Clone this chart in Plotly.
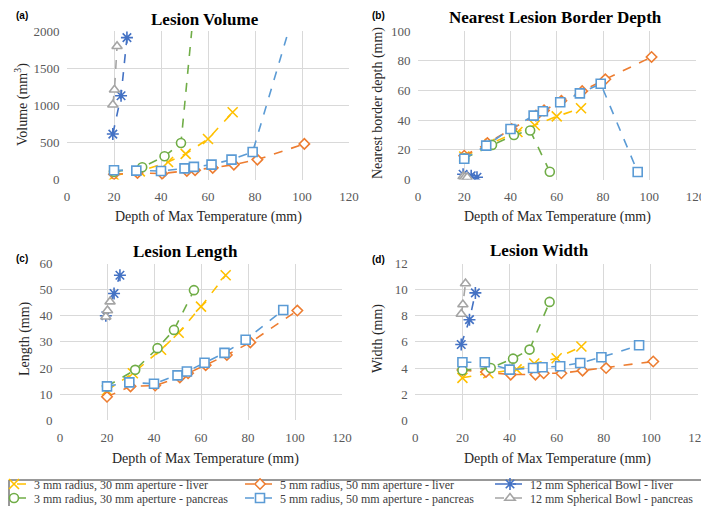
import plotly.graph_objects as go

# ---------------- data ----------------
series_names = [
    "3 mm radius, 30 mm aperture - liver",
    "5 mm radius, 50 mm aperture - liver",
    "12 mm Spherical Bowl - liver",
    "3 mm radius, 30 mm aperture - pancreas",
    "5 mm radius, 50 mm aperture - pancreas",
    "12 mm Spherical Bowl - pancreas",
]

# depth of max temperature (mm)
x_3l = [20, 31, 43, 50.5, 60, 70.5]
x_5l = [20, 30, 40.5, 51, 54.5, 62, 71, 81, 101]
x_12l = [19.5, 23, 25.5]
x_3p = [20, 32, 41.5, 48.5, 57]
x_5p = [20, 29.5, 40, 50, 54, 61.5, 70, 79, 95]
x_12p = [19.5, 20.2, 21.3]

# (a) lesion volume (mm^3)
vol_3l = [55, 110, 235, 345, 545, 905]
vol_5l = [70, 89, 80, 115, 125, 157, 201, 268, 479]
vol_12l = [612, 1128, 1911]
vol_3p = [103, 165, 313, 492, 3300]
vol_5p = [125, 120, 115, 150, 170, 201, 268, 371, 2080]
vol_12p = [1006, 1208, 1795]

# (b) nearest lesion border depth (mm)
dep_3l = [15.5, 24, 32, 36.5, 42.5, 48]
dep_5l = [16, 24.5, 34, 43, 46.5, 53, 59.5, 67.5, 82.5]
dep_12l = [3.5, 2.5, 1.5]
dep_3p = [14.2, 23.3, 30, 33, 5.2]
dep_5p = [14, 22.8, 34, 43, 46, 52, 58, 64.5, 5]
dep_12p = [2, 1.5, 1.5]

# (c) lesion length (mm)
len_3l = [11.5, 18, 27, 33.5, 43.5, 55.5]
len_5l = [9, 13, 13.3, 16.4, 18, 21.1, 25, 29.8, 42]
len_12l = [40, 48.5, 55.5]
len_3p = [13, 19.3, 27.6, 34.6, 49.8]
len_5p = [13, 14.5, 14, 17.2, 18.7, 22, 25.8, 30.8, 42.2]
len_12p = [39.6, 42, 45.4]

# (d) lesion width (mm)
wid_3l = [3.25, 3.6, 3.9, 4.35, 4.75, 5.65]
wid_5l = [3.85, 3.7, 3.5, 3.5, 3.6, 3.6, 3.8, 4.0, 4.5]
wid_12l = [5.8, 7.7, 9.75]
wid_3p = [3.83, 4.0, 4.72, 5.41, 9.06]
wid_5p = [4.44, 4.44, 3.88, 4.0, 4.06, 4.14, 4.39, 4.83, 5.74]
wid_12p = [8.14, 8.86, 10.47]

x_ticks = [0, 20, 40, 60, 80, 100, 120]
vol_ticks = [0, 500, 1000, 1500, 2000]
dep_ticks = [0, 20, 40, 60, 80, 100]
len_ticks = [0, 10, 20, 30, 40, 50, 60]
wid_ticks = [0, 2, 4, 6, 8, 10, 12]

# ---------------- styling ----------------
W, H = 709, 506
SERIF = "Liberation Serif"
colors = ["#FFC000", "#ED7D31", "#4472C4", "#70AD47", "#5B9BD5", "#A5A5A5"]
symbols = ["x-thin", "diamond", "asterisk", "circle", "square", "triangle-up"]
msize = [10, 8, 10, 9, 9, 9]
# one legend per entry: (left px, anchor px)
leg_pos = [(-14, 476), (232, 476), (482, 476), (-14, 490), (232, 490), (482, 490)]

xs = [x_3l, x_5l, x_12l, x_3p, x_5p, x_12p]
panels = [
    [vol_3l, vol_5l, vol_12l, vol_3p, vol_5p, vol_12p],
    [dep_3l, dep_5l, dep_12l, dep_3p, dep_5p, dep_12p],
    [len_3l, len_5l, len_12l, len_3p, len_5p, len_12p],
    [wid_3l, wid_5l, wid_12l, wid_3p, wid_5p, wid_12p],
]
axis_ids = [("x", "y"), ("x2", "y2"), ("x3", "y3"), ("x4", "y4")]

def legname(i):
    return "legend" if i == 0 else f"legend{i + 1}"

fig = go.Figure()
for p, ys in enumerate(panels):
    xa, ya = axis_ids[p]
    for i in range(6):
        open_fill = symbols[i] not in ("x-thin", "asterisk")
        fig.add_trace(go.Scatter(
            x=xs[i], y=ys[i], xaxis=xa, yaxis=ya,
            mode="lines+markers", name=series_names[i],
            legend=legname(i), showlegend=(p == 0),
            line=dict(color=colors[i], width=1.6, dash="dash"),
            marker=dict(symbol=symbols[i], size=msize[i],
                        color="white" if open_fill else colors[i],
                        line=dict(color=colors[i], width=1.6)),
        ))

def xd(a, b):
    return [a / W, b / W]

def yd(top, bottom):
    return [1 - bottom / H, 1 - top / H]

doms = [
    (xd(59, 341), yd(23, 171.5)),
    (xd(410, 687.5), yd(23, 171.5)),
    (xd(52, 334), yd(255.5, 412.3)),
    (xd(407.3, 690), yd(255.5, 412.3)),
]
yranges = [[0, 2000], [0, 100], [0, 60], [0, 12]]
yticks = [vol_ticks, dep_ticks, len_ticks, wid_ticks]

tickfont = dict(family=SERIF, size=13, color="#595959")
layout = dict(
    width=W, height=H,
    font=dict(family=SERIF, size=13, color="#404040"),
    margin=dict(l=0, r=0, t=0, b=0, pad=0, autoexpand=False),
    paper_bgcolor="white", plot_bgcolor="white",
)
for p in range(4):
    sfx = "" if p == 0 else str(p + 1)
    layout["xaxis" + sfx] = dict(
        domain=doms[p][0], range=[0, 120], tickvals=x_ticks,
        showgrid=True, gridcolor="#D9D9D9", gridwidth=1, zeroline=False,
        showline=False, ticks="outside", ticklen=5, tickcolor="rgba(0,0,0,0)",
        tickfont=tickfont, anchor="y" + sfx, fixedrange=True, automargin=False,
        ticklabeloverflow="allow",
    )
    layout["yaxis" + sfx] = dict(
        domain=doms[p][1], range=yranges[p], tickvals=yticks[p],
        showgrid=True, gridcolor="#D9D9D9", gridwidth=1, zeroline=False,
        showline=False, ticks="outside", ticklen=4, tickcolor="rgba(0,0,0,0)",
        tickfont=tickfont, anchor="x" + sfx, fixedrange=True, automargin=False,
        ticklabeloverflow="allow",
    )

legfont = dict(family=SERIF, size=12, color="#404040")
for i, (lx, ly) in enumerate(leg_pos):
    layout[legname(i)] = dict(
        x=lx / W, y=1 - ly / H, xanchor="left", yanchor="middle",
        orientation="v", bgcolor="rgba(0,0,0,0)", borderwidth=0,
        font=legfont, tracegroupgap=0, itemwidth=30,
    )

fig.update_layout(**layout)

# legend frame
fig.add_shape(type="rect", xref="paper", yref="paper",
              x0=1 / W, x1=708 / W, y0=1 - 505 / H, y1=1 - 472 / H,
              line=dict(color="#333333", width=1), fillcolor="rgba(0,0,0,0)")

def ann(text, x, y, size, bold=False, angle=0, family=SERIF, color="black"):
    fig.add_annotation(
        text=f"<b>{text}</b>" if bold else text,
        x=x / W, y=1 - y / H, xref="paper", yref="paper",
        showarrow=False, textangle=angle, xanchor="center", yanchor="middle",
        font=dict(family=family, size=size, color=color),
    )

# panel titles
ann("Lesion Volume", 197, 12, 17, bold=True)
ann("Nearest Lesion Border Depth", 547, 9, 17, bold=True)
ann("Lesion Length", 177, 243, 17, bold=True)
ann("Lesion Width", 531, 242, 17, bold=True)

# panel letters
ann("(a)", 14, 7, 10, bold=True, family="Liberation Sans")
ann("(b)", 370, 7, 10, bold=True, family="Liberation Sans")
ann("(c)", 14, 250, 10, bold=True, family="Liberation Sans")
ann("(d)", 370, 251, 10, bold=True, family="Liberation Sans")

# axis titles
xt = "Depth of Max Temperature (mm)"
ann(xt, 200, 209, 14, color="#262626")
ann(xt, 549, 209, 14, color="#262626")
ann(xt, 197, 451, 14, color="#262626")
ann(xt, 549, 451, 14, color="#262626")
ann("Volume (mm<sup>3</sup>)", 13, 97, 14, angle=-90, color="#262626")
ann("Nearest border depth (mm)", 370, 95, 14, angle=-90, color="#262626")
ann("Length (mm)", 17, 331, 14, angle=-90, color="#262626")
ann("Width (mm)", 370, 331, 14, angle=-90, color="#262626")

fig.write_html("out.html")
